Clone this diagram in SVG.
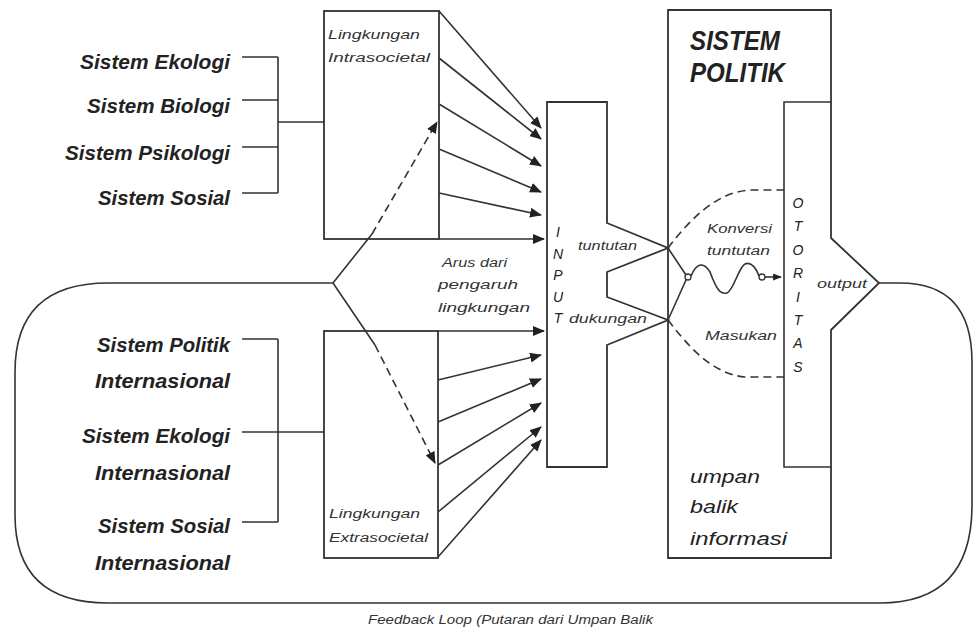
<svg xmlns="http://www.w3.org/2000/svg" width="973" height="630" viewBox="0 0 973 630">
<defs>
<marker id="ah" viewBox="0 0 12 10" refX="11" refY="5" markerWidth="12" markerHeight="10" markerUnits="userSpaceOnUse" orient="auto">
<path d="M0,0 L12,5 L0,10 Z" fill="#222"/>
</marker>
<marker id="ahs" viewBox="0 0 10 8" refX="9" refY="4" markerWidth="9" markerHeight="7" markerUnits="userSpaceOnUse" orient="auto">
<path d="M0,0 L10,4 L0,8 Z" fill="#222"/>
</marker>
</defs>
<style>
.ln{fill:none;stroke:#333;stroke-width:1.6}
.box{fill:#fff;stroke:#333;stroke-width:1.8}
.ds{fill:none;stroke:#333;stroke-width:1.6;stroke-dasharray:8 5}
.big{font-family:"Liberation Sans",Arial,sans-serif;font-style:italic;font-weight:bold;font-size:20px;fill:#222}
.sm{font-family:"Liberation Sans",Arial,sans-serif;font-style:italic;font-size:12.5px;fill:#333}
.vl{font-family:"Liberation Sans",Arial,sans-serif;font-style:italic;font-size:14px;fill:#222;text-anchor:middle}
.mid{font-family:"Liberation Sans",Arial,sans-serif;font-style:italic;font-size:19px;fill:#222}
.ttl{font-family:"Liberation Sans",Arial,sans-serif;font-style:italic;font-weight:bold;font-size:28px;fill:#222}
</style>
<rect width="973" height="630" fill="#fff"/>

<g id="loop">
<path class="ln" d="M333,283 L108,283 Q15,283 15,372 L15,515 Q15,603 108,603 L880,603 Q972,603 972,505 L972,362 Q972,283 900,283 L879,283" stroke-width="1.8"/>
</g>

<g id="intra-sources">
<text class="big" x="230" y="69" text-anchor="end" textLength="150" lengthAdjust="spacingAndGlyphs">Sistem Ekologi</text>
<text class="big" x="230" y="113" text-anchor="end" textLength="143" lengthAdjust="spacingAndGlyphs">Sistem Biologi</text>
<text class="big" x="230" y="160" text-anchor="end" textLength="165" lengthAdjust="spacingAndGlyphs">Sistem Psikologi</text>
<text class="big" x="230" y="205" text-anchor="end" textLength="132" lengthAdjust="spacingAndGlyphs">Sistem Sosial</text>
<path class="ln" d="M242,57 H278 M242,100 H278 M242,147 H278 M242,193 H278 M278,57 V193 M278,122 H324"/>
</g>

<g id="extra-sources">
<text class="big" x="230" y="352" text-anchor="end" textLength="133" lengthAdjust="spacingAndGlyphs">Sistem Politik</text>
<text class="big" x="230" y="388" text-anchor="end" textLength="135" lengthAdjust="spacingAndGlyphs">Internasional</text>
<text class="big" x="230" y="443" text-anchor="end" textLength="148" lengthAdjust="spacingAndGlyphs">Sistem Ekologi</text>
<text class="big" x="230" y="480" text-anchor="end" textLength="135" lengthAdjust="spacingAndGlyphs">Internasional</text>
<text class="big" x="230" y="533" text-anchor="end" textLength="132" lengthAdjust="spacingAndGlyphs">Sistem Sosial</text>
<text class="big" x="230" y="570" text-anchor="end" textLength="135" lengthAdjust="spacingAndGlyphs">Internasional</text>
<path class="ln" d="M242,339 H278 M242,432 H324 M242,522 H278 M278,339 V522"/>
</g>

<g id="intrasocietal">
<rect class="box" x="324" y="11" width="115" height="228"/>
<text class="sm" x="328" y="39" textLength="92" lengthAdjust="spacingAndGlyphs">Lingkungan</text>
<text class="sm" x="328" y="62" textLength="102" lengthAdjust="spacingAndGlyphs">Intrasocietal</text>
</g>

<g id="extrasocietal">
<rect class="box" x="324" y="331" width="114" height="227"/>
<text class="sm" x="329" y="518" textLength="91" lengthAdjust="spacingAndGlyphs">Lingkungan</text>
<text class="sm" x="329" y="542" textLength="99" lengthAdjust="spacingAndGlyphs">Extrasocietal</text>
</g>

<g id="arus">
<text class="sm" x="442" y="267" textLength="65" lengthAdjust="spacingAndGlyphs">Arus dari</text>
<text class="sm" x="438" y="289" textLength="80" lengthAdjust="spacingAndGlyphs">pengaruh</text>
<text class="sm" x="438" y="312" textLength="92" lengthAdjust="spacingAndGlyphs">lingkungan</text>
</g>

<g id="input">
<path class="box" d="M547,102 L607,102 L607,223 L668,248 L607,272 L607,297 L668,320 L607,345 L607,467 L547,467 Z"/>
<text class="vl" x="558" y="237">I</text>
<text class="vl" x="558" y="258.5">N</text>
<text class="vl" x="558" y="280">P</text>
<text class="vl" x="558" y="301.5">U</text>
<text class="vl" x="558" y="323">T</text>
<text class="sm" x="578" y="250" textLength="59" lengthAdjust="spacingAndGlyphs">tuntutan</text>
<text class="sm" x="569" y="323" textLength="78" lengthAdjust="spacingAndGlyphs">dukungan</text>
</g>

<g id="sistem-politik">
<path class="box" fill="none" d="M668,10 L831,10 L831,238 L879,283 L831,330 L831,558 L668,558 Z" style="fill:none"/>
<text class="ttl" x="690" y="50" textLength="90" lengthAdjust="spacingAndGlyphs">SISTEM</text>
<text class="ttl" x="690" y="82" textLength="95" lengthAdjust="spacingAndGlyphs">POLITIK</text>
<text class="sm" x="817" y="288" textLength="50" lengthAdjust="spacingAndGlyphs">output</text>
<text class="mid" x="690" y="483" textLength="70" lengthAdjust="spacingAndGlyphs">umpan</text>
<text class="mid" x="690" y="513" textLength="48" lengthAdjust="spacingAndGlyphs">balik</text>
<text class="mid" x="690" y="545" textLength="97" lengthAdjust="spacingAndGlyphs">informasi</text>
</g>

<g id="otoritas">
<path class="ln" d="M831,102 L784,102 L784,467 L831,467" stroke-width="1.8"/>
<text class="vl" x="798" y="208">O</text>
<text class="vl" x="798" y="231.4">T</text>
<text class="vl" x="798" y="254.8">O</text>
<text class="vl" x="798" y="278.2">R</text>
<text class="vl" x="798" y="301.6">I</text>
<text class="vl" x="798" y="325">T</text>
<text class="vl" x="798" y="348.4">A</text>
<text class="vl" x="798" y="371.8">S</text>
</g>

<g id="konversi">
<text class="sm" x="707" y="233" textLength="65" lengthAdjust="spacingAndGlyphs">Konversi</text>
<text class="sm" x="707" y="255" textLength="63" lengthAdjust="spacingAndGlyphs">tuntutan</text>
<text class="sm" x="705" y="340" textLength="72" lengthAdjust="spacingAndGlyphs">Masukan</text>
</g>

<g id="connectors">
<path class="ln" d="M439,11 L541,128" marker-end="url(#ah)"/>
<path class="ln" d="M439,58 L541,139" marker-end="url(#ah)"/>
<path class="ln" d="M439,104 L541,166" marker-end="url(#ah)"/>
<path class="ln" d="M439,149 L541,192" marker-end="url(#ah)"/>
<path class="ln" d="M439,193 L541,215" marker-end="url(#ah)"/>
<path class="ln" d="M439,239 L544,239" marker-end="url(#ah)"/>
<path class="ln" d="M438,331 L544,331" marker-end="url(#ah)"/>
<path class="ln" d="M438,380 L541,355" marker-end="url(#ah)"/>
<path class="ln" d="M438,422 L541,379" marker-end="url(#ah)"/>
<path class="ln" d="M438,465 L541,403" marker-end="url(#ah)"/>
<path class="ln" d="M438,512 L541,427" marker-end="url(#ah)"/>
<path class="ln" d="M438,557 L541,440" marker-end="url(#ah)"/>
<path class="ln" d="M333,283 L372,234 M333,283 L375,345"/>
<path class="ds" d="M372,234 L437,122" marker-end="url(#ah)"/>
<path class="ds" d="M375,345 L435,463" marker-end="url(#ah)"/>
<path class="ln" d="M668,248 L686,275 M668,320 L686,280"/>
<path class="ds" d="M668,248 C688,222 715,192 750,190 L784,190"/>
<path class="ds" d="M668,320 C688,346 712,374 745,377 L784,377"/>
<circle cx="688" cy="277" r="3" fill="#fff" stroke="#333" stroke-width="1.3"/>
<path class="ln" d="M691,276 C697,262 704,262 710,272 C716,288 720,295 727,293 C734,290 738,268 745,264 C752,261 757,270 759,276"/>
<circle cx="762" cy="277" r="3" fill="#fff" stroke="#333" stroke-width="1.3"/>
<path class="ln" d="M765,277 L781,277" marker-end="url(#ahs)"/>
</g>

<g id="caption">
<text class="sm" x="368" y="624" font-size="12" textLength="285" lengthAdjust="spacingAndGlyphs">Feedback Loop (Putaran dari Umpan Balik</text>
</g>
</svg>
